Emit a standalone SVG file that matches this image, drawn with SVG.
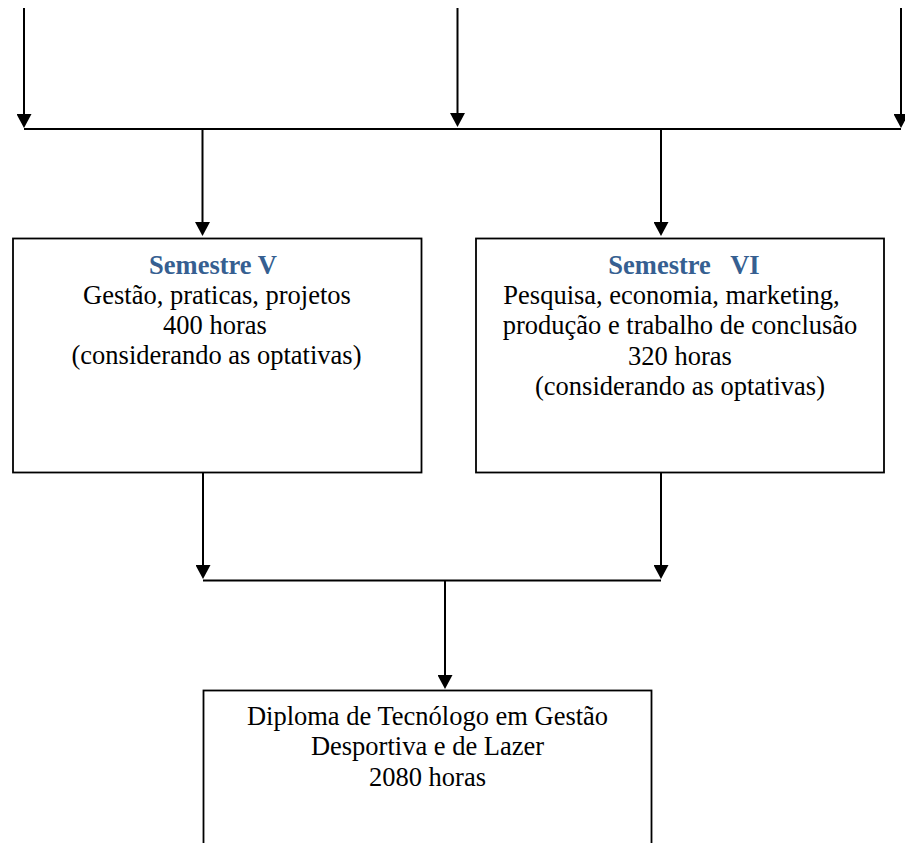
<svg xmlns="http://www.w3.org/2000/svg" width="905" height="843" viewBox="0 0 905 843">
<style>
.box{fill:#fff;stroke:#000;stroke-width:1.8}
.con{fill:none;stroke:#000;stroke-width:2}
.t{font-family:"Liberation Serif","Times New Roman",serif;font-size:26.5px;font-weight:normal;fill:#000;text-anchor:middle}
.h{font-weight:bold;fill:#365F91}
</style>
<defs>
<marker id="ah" viewBox="0 0 14 15" refX="10" refY="7.5" markerWidth="14" markerHeight="15" markerUnits="userSpaceOnUse" orient="auto">
<path d="M0,0 L14,7.5 L0,15 Z" fill="#000"/>
</marker>
</defs>
<rect width="905" height="843" fill="#fff"/>
<g id="connectors">
<path class="con" d="M24,8 V124" marker-end="url(#ah)"/>
<path class="con" d="M457.5,8 V123" marker-end="url(#ah)"/>
<path class="con" d="M901,8 V124" marker-end="url(#ah)"/>
<path class="con" d="M24,129 H901"/>
<path class="con" d="M202.5,129 V232" marker-end="url(#ah)"/>
<path class="con" d="M661,129 V232" marker-end="url(#ah)"/>
<path class="con" d="M203,472 V575" marker-end="url(#ah)"/>
<path class="con" d="M661,472 V575" marker-end="url(#ah)"/>
<path class="con" d="M203,580.5 H661"/>
<path class="con" d="M445,580.5 V685" marker-end="url(#ah)"/>
</g>
<g id="semestre-v">
<rect class="box" x="13" y="238.5" width="408.5" height="234"/>
<text class="t h" x="213" y="274">Semestre V</text>
<text class="t" x="217" y="304">Gestão, praticas, projetos</text>
<text class="t" x="215" y="334">400 horas</text>
<text class="t" x="216.5" y="364">(considerando as optativas)</text>
</g>
<g id="semestre-vi">
<rect class="box" x="476" y="238.5" width="408" height="234"/>
<text class="t h" x="684" y="274" xml:space="preserve">Semestre   VI</text>
<text class="t" x="671.5" y="304">Pesquisa, economia, marketing,</text>
<text class="t" x="680" y="334">produção e trabalho de conclusão</text>
<text class="t" x="680" y="365">320 horas</text>
<text class="t" x="680" y="395">(considerando as optativas)</text>
</g>
<g id="diploma">
<rect class="box" x="203.5" y="690.5" width="448" height="200"/>
<text class="t" x="427.5" y="725">Diploma de Tecnólogo em Gestão</text>
<text class="t" x="427.5" y="755">Desportiva e de Lazer</text>
<text class="t" x="427.5" y="786">2080 horas</text>
</g>
</svg>
